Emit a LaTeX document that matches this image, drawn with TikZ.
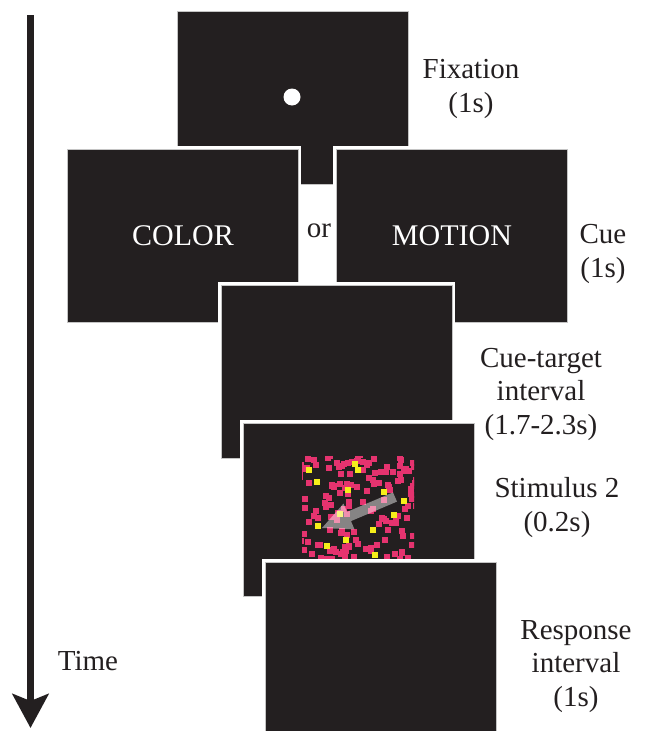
\documentclass[tikz,border=0pt]{standalone}
\usepackage{fontspec}
\setmainfont{Liberation Serif}
\newfontfamily\figserif{Liberation Serif}
\usetikzlibrary{arrows.meta}
\definecolor{screenfill}{HTML}{231F20}
\definecolor{rim}{HTML}{C4C4C4}
\definecolor{dotpink}{HTML}{E5336F}
\definecolor{dotyellow}{HTML}{F5EE1A}

\begin{document}
\begin{tikzpicture}[x=1pt,y=-1pt,
  screen/.style={rectangle, anchor=north west, minimum width=231pt,
    minimum height=173pt, inner sep=0pt, fill=screenfill, draw=rim,
    line width=0.9pt, preaction={draw=white, line width=6pt},
    text=white, font=\figserif\fontsize{30}{34}\selectfont},
  lbl/.style={align=center, font=\figserif\fontsize{29}{33.5}\selectfont,
    text=screenfill, anchor=base, inner sep=0pt},
  pinkdot/.style={fill=dotpink},
  yellowdot/.style={fill=dotyellow},
]
\useasboundingbox (0,0) rectangle (646,731);

% time axis
\coordinate (tstart) at (30.5,15);
\coordinate (tend) at (30.5,728);
\draw[screenfill, line width=7pt, -{Stealth[length=34pt,width=36pt,inset=7pt]}]
  (tstart) -- (tend);
\node[lbl] (time) at (88,670) {Time};

% screens, back to front
\node[screen] (fix) at (177,11) {};
\fill[white] (292,97) circle (8.5);
\node[screen] (color) at (67,149) {COLOR};
\node[screen] (motion) at (336,149) {MOTION};
\node[lbl] (or) at (319,237) {or};
\node[screen] (gap) at (221,285) {};
\node[screen] (stim) at (243,423) {};

% random dot field
\begin{scope}
  \clip (302,456) rectangle (414,566);
  \pgfmathsetseed{2718}
  \foreach \i in {1,...,160}{
    \pgfmathsetmacro\px{300+rnd*116}
    \pgfmathsetmacro\py{455+rnd*110}
    \fill[pinkdot] (\px-3,\py-3) rectangle ++(6,6);
  }
  \foreach \px/\py in {355/464, 317/482, 348/490, 384/492, 404/501,
                       340/514, 318/526, 373/530, 327/546, 375/555,
                       358/470, 394/515, 309/470, 346/540}{
    \fill[yellowdot] (\px-2.6,\py-2.6) rectangle ++(5.2,5.2);
  }
\end{scope}
% motion direction arrow
\fill[white, fill opacity=0.45]
  (393,492.4) -- (347,511.9) -- (343.5,503.6) -- (322,528)
  -- (354.5,529.4) -- (351,521.1) -- (397,501.6) -- cycle;

\node[screen, minimum height=180pt] (resp) at (265,562) {};

% phase labels (anchored on the baseline of their last line)
\node[lbl] (lfix) at (471,112) {Fixation\\(1s)};
\node[lbl] (lcue) at (603,277) {Cue\\(1s)};
\node[lbl] (lgap) at (541,434) {Cue-target\\interval\\(1.7-2.3s)};
\node[lbl] (lstim) at (557,531) {Stimulus 2\\(0.2s)};
\node[lbl] (lresp) at (576,706) {Response\\interval\\(1s)};
\end{tikzpicture}
\end{document}
